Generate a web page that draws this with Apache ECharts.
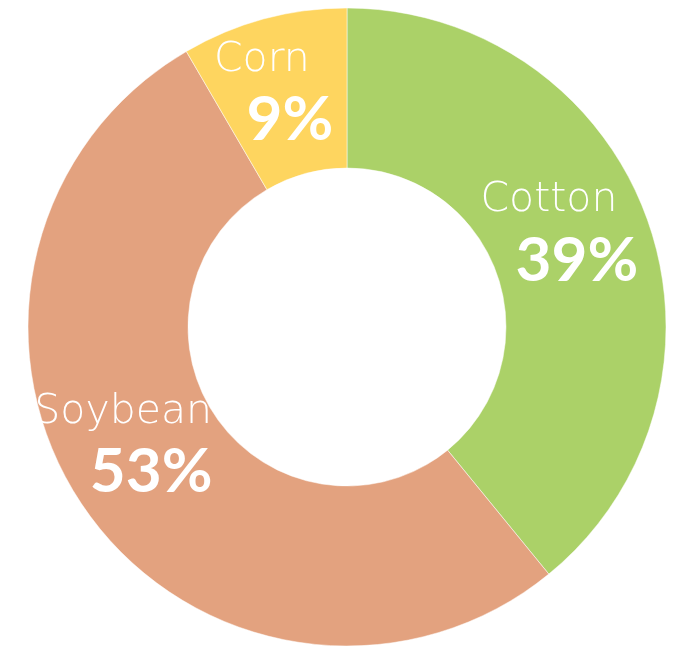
<!DOCTYPE html>
<html><head><meta charset="utf-8">
<script src="https://cdn.jsdelivr.net/npm/echarts@6/dist/echarts.min.js"></script>
<style>html,body{margin:0;padding:0;background:#fff}#c{width:679px;height:646px}</style>
</head><body><div id="c"></div>
<script>
const categories = ['Cotton', 'Soybean', 'Corn'];
const values = [39.1, 52.5, 8.4];
const pctLabels = ['39%', '53%', '9%'];
const colors = ['#ABD168', '#E3A27F', '#FED55F'];
const offsets = [[-26, -13], [-25, -21], [-22, -1]];

const chart = echarts.init(document.getElementById('c'));
chart.setOption({
  animation: false,
  series: [{
    type: 'pie',
    center: [347, 327],
    radius: [159, 319],
    startAngle: 90,
    clockwise: true,
    avoidLabelOverlap: false,
    itemStyle: { borderColor: '#fff', borderWidth: 0.5 },
    label: {
      show: true,
      position: 'inside',
      formatter: p => '{n|' + p.name + '}\n{p|' + pctLabels[p.dataIndex] + '}',
      rich: {
        n: { fontFamily: 'DejaVu Sans', fontWeight: 200, fontSize: 41, color: '#fff', lineHeight: 56, align: 'center' },
        p: { fontFamily: 'Lato', fontWeight: 'bold', fontSize: 62, color: '#fff', lineHeight: 64, padding: [0, 0, 0, 56], align: 'center' }
      }
    },
    labelLine: { show: false },
    data: categories.map((c, i) => ({
      name: c, value: values[i],
      itemStyle: { color: colors[i] },
      label: { offset: offsets[i] }
    }))
  }]
});
</script></body></html>
